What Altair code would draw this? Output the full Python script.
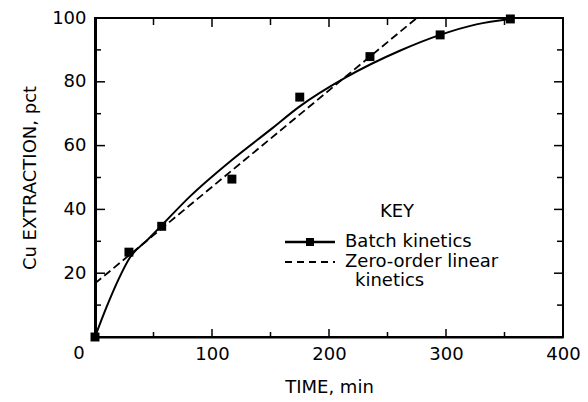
import altair as alt
import pandas as pd

# ---- data ----
time_min = [0, 29, 57, 117, 175, 235, 295, 355]
extraction_pct = [0, 26.6, 34.7, 49.5, 75.2, 87.9, 94.7, 99.7]

curve_time = [0, 10, 20, 30, 45, 57, 81, 117, 150, 175, 214, 261, 295, 326, 355]
curve_pct = [0, 9.5, 18, 25, 30.5, 35, 44, 55.5, 65, 72.3, 81.3, 89.8, 94.7, 98, 99.7]

zero_order_time = [0, 275]
zero_order_pct = [16.8, 100]

x_labels = [100, 200, 300, 400]
y_labels = [20, 40, 60, 80, 100]
x_major_ticks = [100, 200, 300]
x_minor_ticks = [50, 150, 250, 350]
y_major_ticks = [20, 40, 60, 80]
y_minor_ticks = [10, 30, 50, 70, 90]

W, H = 468, 319
FONT = "DejaVu Sans"

xs = alt.Scale(domain=[0, 400], nice=False, zero=False)
ys = alt.Scale(domain=[0, 100], nice=False, zero=False)

x_axis = alt.Axis(values=x_labels, title="TIME, min", tickSize=0, grid=False,
                  labelFont=FONT, labelFontSize=18, labelColor="black", labelPadding=8,
                  titleFont=FONT, titleFontSize=18, titleFontWeight="normal",
                  titleColor="black", titlePadding=15,
                  domainColor="black", domainWidth=2, labelFlush=False)
y_axis = alt.Axis(values=y_labels, title="Cu EXTRACTION, pct", tickSize=0, grid=False,
                  labelFont=FONT, labelFontSize=18, labelColor="black", labelPadding=9,
                  titleFont=FONT, titleFontSize=18, titleFontWeight="normal",
                  titleColor="black", titlePadding=12,
                  domainColor="black", domainWidth=3, labelFlush=False)

X = lambda: alt.X("t:Q", scale=xs, axis=x_axis)
Y = lambda: alt.Y("e:Q", scale=ys, axis=y_axis)

pts = pd.DataFrame({"t": time_min, "e": extraction_pct})
curve = pd.DataFrame({"t": curve_time, "e": curve_pct})
zero = pd.DataFrame({"t": zero_order_time, "e": zero_order_pct})

points = alt.Chart(pts).mark_square(size=80, color="black", opacity=1).encode(x=X(), y=Y())

batch_line = alt.Chart(curve).mark_line(color="black", strokeWidth=2,
                                        interpolate="monotone").encode(x=X(), y=Y())

zero_line = alt.Chart(zero).mark_line(color="black", strokeWidth=1.8,
                                      strokeDash=[8, 4]).encode(x=X(), y=Y())

origin_label = alt.Chart(pd.DataFrame({"t": [0], "e": [0]})).mark_text(
    font=FONT, fontSize=18, color="black", dx=-16, dy=17).encode(
    x=X(), y=Y(), text=alt.value("0"))


def vticks(vals, y1, y2):
    return alt.Chart(pd.DataFrame({"t": vals})).mark_rule(color="black", strokeWidth=1.5).encode(
        x=X(), y=alt.value(y1), y2=alt.value(y2))


def hticks(vals, x1, x2):
    return alt.Chart(pd.DataFrame({"e": vals})).mark_rule(color="black", strokeWidth=1.5).encode(
        y=Y(), x=alt.value(x1), x2=alt.value(x2))


ticks = [
    vticks(x_major_ticks, H, H - 8), vticks(x_minor_ticks, H, H - 5),
    vticks(x_major_ticks, 0, 9), vticks(x_minor_ticks, 0, 7),
    hticks(y_major_ticks, 0, 10), hticks(y_minor_ticks, 0, 6),
    hticks(y_major_ticks, W, W - 9), hticks(y_minor_ticks, W, W - 6),
]

one = pd.DataFrame({"a": [0]})


def legend_text(txt, x, y, align="left"):
    return alt.Chart(one).mark_text(font=FONT, fontSize=18, color="black", align=align,
                                    baseline="middle").encode(
        x=alt.value(x), y=alt.value(y), text=alt.value(txt))


legend = [
    legend_text("KEY", 302, 194, "center"),
    alt.Chart(one).mark_rule(color="black", strokeWidth=2.5).encode(
        x=alt.value(190), x2=alt.value(240), y=alt.value(224)),
    alt.Chart(one).mark_square(size=64, color="black", opacity=1).encode(
        x=alt.value(215), y=alt.value(224)),
    legend_text("Batch kinetics", 250, 224),
    alt.Chart(one).mark_rule(color="black", strokeWidth=1.8, strokeDash=[7, 5]).encode(
        x=alt.value(190), x2=alt.value(240), y=alt.value(244)),
    legend_text("Zero-order linear", 250, 244),
    legend_text("kinetics", 260, 263),
]

chart = alt.layer(points, batch_line, zero_line, origin_label, *ticks, *legend).properties(
    width=W, height=H,
    autosize=alt.AutoSizeParams(type="none"),
    padding={"left": 87, "top": 10, "right": 17, "bottom": 65},
).configure_view(stroke="black", strokeWidth=2)

chart.save("out.html", embed_options={"renderer": "svg", "actions": False})
